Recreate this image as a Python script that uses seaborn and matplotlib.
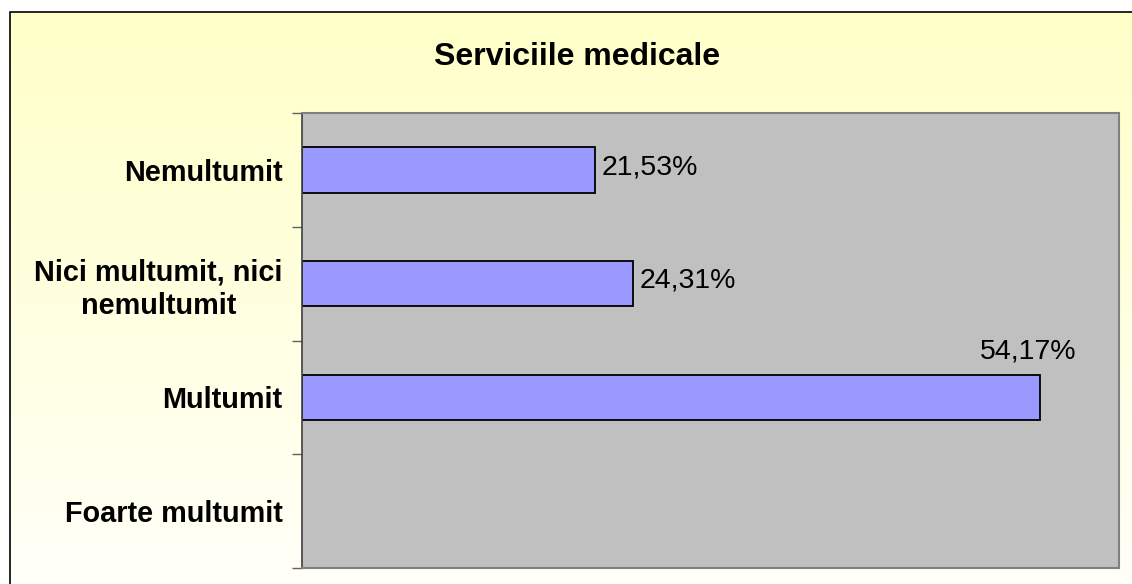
import numpy as np
import pandas as pd
import seaborn as sns
import matplotlib.pyplot as plt
from matplotlib.colors import LinearSegmentedColormap
from matplotlib.patches import Rectangle

# data
categories = ['Nemultumit', 'Nici multumit, nici\nnemultumit', 'Multumit', 'Foarte multumit']
values = [21.53, 24.31, 54.17, np.nan]
value_labels = ['21,53%', '24,31%', '54,17%', '']
title = 'Serviciile medicale'

df = pd.DataFrame({'Categorie': categories, 'Procent': values})

sns.set_style('white')
plt.rcParams['font.family'] = ['Liberation Sans', 'DejaVu Sans']
plt.rcParams['text.color'] = 'black'
plt.rcParams['ytick.labelcolor'] = 'black'

W, H = 1132, 584
fig = plt.figure(figsize=(W / 100, H / 100), dpi=100)
fig.patch.set_facecolor('white')

# chart area background: yellow gradient, top to bottom
bg = fig.add_axes([10 / W, 0, 1 - 10 / W, 1 - 12 / H], zorder=0)
grad = np.linspace(0, 1, 256).reshape(-1, 1)
cmap = LinearSegmentedColormap.from_list('bg', ['#FFFFC8', '#FFFFF8'])
bg.imshow(grad, aspect='auto', cmap=cmap, extent=[0, 1, 0, 1], origin='upper')
bg.set_xlim(0, 1)
bg.set_ylim(0, 1)
bg.axis('off')
fig.add_artist(Rectangle((10 / W, -0.1), 1.2, 1 - 12 / H + 0.1, transform=fig.transFigure,
                         fill=False, edgecolor='black', linewidth=1.2, zorder=1))

# plot area
left, right, top, bottom = 302, 1119, 113, 568
ax = fig.add_axes([left / W, 1 - bottom / H, (right - left) / W, (bottom - top) / H], zorder=2)
ax.set_facecolor('#C0C0C0')

sns.barplot(data=df, x='Procent', y='Categorie', order=categories, orient='h',
            color='#9999FF', edgecolor='black', linewidth=1.3, width=0.4,
            saturation=1, ax=ax)

ax.set_xlim(0, 60)
ax.set_ylim(3.5, -0.5)
ax.set_xlabel('')
ax.set_ylabel('')
ax.set_xticks([])
ax.set_yticks(np.arange(-0.5, 4, 1), minor=True)
ax.tick_params(axis='y', which='major', length=0, pad=14)
ax.tick_params(axis='y', which='minor', length=7, color='#606060', width=1, left=True)
for lbl in ax.get_yticklabels():
    lbl.set_fontweight('bold')
    lbl.set_fontsize(20.8)
    lbl.set_color('black')
    lbl.set_horizontalalignment('right')
    lbl.set_multialignment('center')
    lbl.set_linespacing(1.25)

for side in ['top', 'right', 'bottom']:
    ax.spines[side].set_color('#808080')
    ax.spines[side].set_linewidth(1.5)
ax.spines['left'].set_color('#404040')
ax.spines['left'].set_linewidth(1.2)

# value labels
for i, (v, t) in enumerate(zip(values, value_labels)):
    if np.isnan(v):
        continue
    if v > 50:
        ax.annotate(t, (v, i), xytext=(-8, 33), textcoords='offset points',
                    ha='center', va='center', fontsize=20.5)
    else:
        ax.annotate(t, (v, i), xytext=(5, 2), textcoords='offset points',
                    ha='left', va='center', fontsize=20.5)

fig.text(577 / W, 1 - 57 / H, title, ha='center', va='center',
         fontsize=23, fontweight='bold')

fig.savefig('out.png', dpi=100)
